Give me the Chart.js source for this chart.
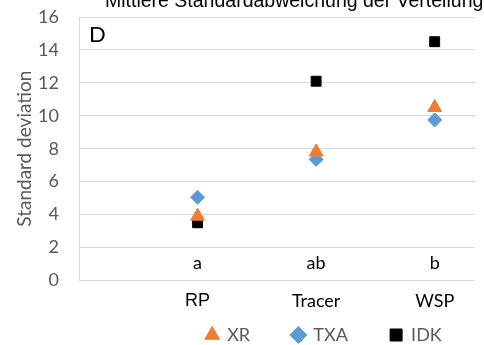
<!DOCTYPE html>
<html lang="de">
<head>
<meta charset="UTF-8">
<title>Standard deviation</title>
<script src="https://cdn.jsdelivr.net/npm/chart.js@4.4.0/dist/chart.umd.min.js"></script>
<style>
  body { margin: 0; background: #fff; }
  .wrap { width: 484px; height: 345px; position: relative; }
</style>
</head>
<body>
<div class="wrap"><canvas id="chart"></canvas></div>
<script>
// Daten
const categories = ['RP', 'Tracer', 'WSP'];
const groupLetters = ['a', 'ab', 'b'];
const xrValues = [3.9, 7.8, 10.5];
const txaValues = [5.05, 7.35, 9.75];
const idkValues = [3.5, 12.1, 14.5];
const yMin = 0, yMax = 16, yStep = 2;

const toPoints = vals => vals.map((v, i) => ({ x: i + 1, y: v }));
const grey = '#595959';
const legendGap = '\u2003\u2003\u2002\u2009';

// Beschriftungen im Diagramm (a/ab/b, D, abgeschnittener Titel)
const overlayText = {
    id: 'overlayText',
    afterDatasetsDraw(chart) {
        const { ctx, chartArea, scales: { x, y } } = chart;
        ctx.save();
        ctx.fillStyle = '#000';
        ctx.textAlign = 'center';
        ctx.textBaseline = 'middle';
        ctx.font = '18px Lato';
        groupLetters.forEach((t, i) => {
            ctx.fillText(t, x.getPixelForValue(i + 1), y.getPixelForValue(1.05));
        });
        ctx.textAlign = 'left';
        ctx.font = '22px Lato';
        ctx.fillText('D', chartArea.left + 10, chartArea.top + 18);
        ctx.font = '19.5px "Liberation Sans"';
        ctx.textBaseline = 'alphabetic';
        ctx.fillText('Mittlere Standardabweichung der Verteilung', 105, 7);
        ctx.restore();
    }
};

new Chart(document.getElementById('chart'), {
    type: 'scatter',
    data: {
        datasets: [{
            label: 'XR',
            data: toPoints(xrValues),
            pointStyle: 'triangle',
            pointRadius: 8,
            pointHoverRadius: 8,
            backgroundColor: '#ED7D31',
            borderColor: '#ED7D31'
        }, {
            label: 'TXA',
            data: toPoints(txaValues),
            pointStyle: 'rectRot',
            pointRadius: 7,
            pointHoverRadius: 7,
            backgroundColor: '#5B9BD5',
            borderColor: '#5B9BD5'
        }, {
            label: 'IDK',
            data: toPoints(idkValues),
            pointStyle: 'rect',
            pointRadius: 7,
            pointHoverRadius: 7,
            backgroundColor: '#000',
            borderColor: '#000'
        }]
    },
    options: {
        responsive: true,
        maintainAspectRatio: false,
        animation: false,
        layout: { padding: { top: 17, right: 0, left: 13, bottom: -9 } },
        scales: {
            x: {
                type: 'linear',
                min: 0,
                max: 3.34,
                grid: { display: false, drawTicks: false },
                border: { display: false },
                afterBuildTicks: axis => {
                    axis.ticks = categories.map((c, i) => ({ value: i + 1 }));
                },
                ticks: {
                    padding: 10,
                    color: '#000',
                    font: c => c.index === 0
                        ? { family: 'Liberation Sans', size: 18 }
                        : { family: 'Lato', size: 18 },
                    callback: v => categories[v - 1] || ''
                }
            },
            y: {
                min: yMin,
                max: yMax,
                afterFit: axis => { axis.width = 66; },
                grid: { color: '#d9d9d9', tickLength: 17, tickColor: 'rgba(0,0,0,0)' },
                border: { display: true, color: '#d9d9d9' },
                ticks: {
                    stepSize: yStep,
                    padding: 3,
                    color: grey,
                    font: { family: 'Lato', size: 18 }
                },
                title: {
                    display: true,
                    text: 'Standard deviation',
                    color: grey,
                    font: { family: 'Lato', size: 19 },
                    padding: 0
                }
            }
        },
        plugins: {
            legend: {
                position: 'bottom',
                align: 'end',
                labels: {
                    usePointStyle: true,
                    boxWidth: 12,
                    boxHeight: 12,
                    padding: 4,
                    color: grey,
                    font: { family: 'Lato', size: 18 },
                    generateLabels: chart => {
                        const items = Chart.defaults.plugins.legend.labels.generateLabels(chart);
                        items.forEach(it => { it.text = it.text + legendGap; });
                        return items;
                    }
                }
            },
            tooltip: { enabled: false }
        }
    },
    plugins: [overlayText]
});
</script>
</body>
</html>
